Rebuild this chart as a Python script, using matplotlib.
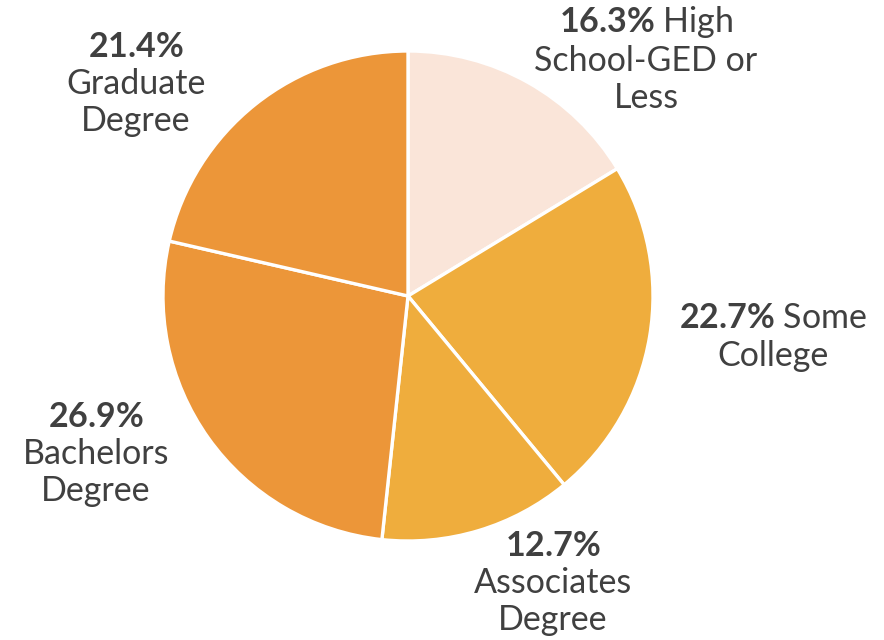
import matplotlib
matplotlib.use("Agg")
import matplotlib.pyplot as plt

# education share
categories = ["High\nSchool-GED or\nLess", "Some\nCollege", "Associates\nDegree",
              "Bachelors\nDegree", "Graduate\nDegree"]
values = [16.3, 22.7, 12.7, 26.9, 21.4]
colors = ["#FAE5D9", "#EFAD3D", "#EFAD3D", "#EC9639", "#EC9639"]
# does the bold number sit on its own line?
own_line = [False, False, True, True, True]
# label centers in pixels (x, y from top)
label_pos = [(646, 59), (773, 337), (553, 583), (96, 454), (136, 84)]

plt.rcParams["font.family"] = ["Lato", "DejaVu Sans"]
plt.rcParams["mathtext.fontset"] = "custom"
plt.rcParams["mathtext.rm"] = "Lato"
plt.rcParams["mathtext.bf"] = "Lato:bold"

W, H = 884, 640
fig = plt.figure(figsize=(W / 100, H / 100), dpi=100)
cx, cy, r = 408, 296, 245
ax = fig.add_axes([(cx - r) / W, (H - cy - r) / H, 2 * r / W, 2 * r / H])
ax.pie(values, colors=colors, startangle=90, counterclock=False, radius=1,
       wedgeprops=dict(edgecolor="white", linewidth=2.4))
ax.set_xlim(-1.0, 1.0)
ax.set_ylim(-1.0, 1.0)
ax.set_aspect("equal")
ax.axis("off")

for cat, v, own, (px, py) in zip(categories, values, own_line, label_pos):
    num = r"$\mathbf{%.1f\%%}$" % v
    if own:
        s = num + "\n" + cat
    else:
        s = num + " " + cat
    fig.text(px / W, 1 - py / H, s, ha="center", va="center", multialignment="center",
             fontsize=24.5, color="#404040", linespacing=1.2)

fig.savefig("out.png", dpi=100, facecolor="white")
